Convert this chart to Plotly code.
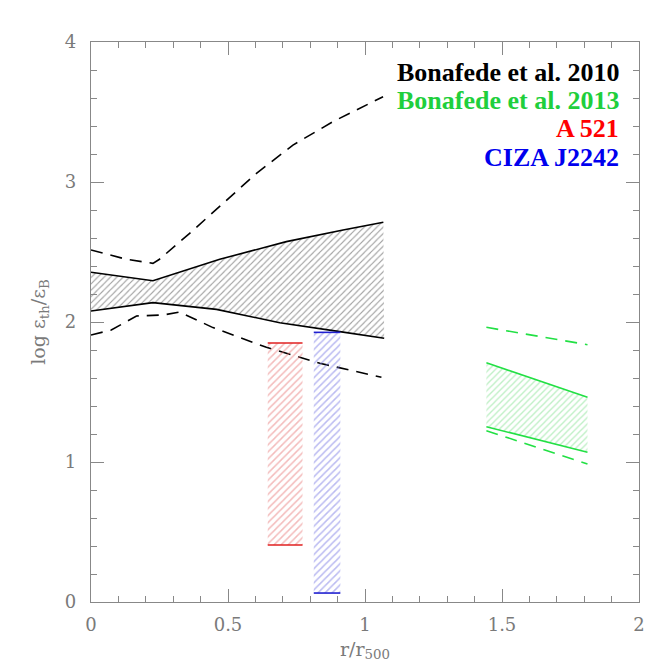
import plotly.graph_objects as go

# Bonafede et al. 2010: solid band boundaries and dashed envelopes
b10_up_x = [0.0, 0.226, 0.47, 0.713, 0.92, 1.067]
b10_up_y = [2.355, 2.295, 2.448, 2.574, 2.657, 2.713]
b10_lo_x = [0.0, 0.226, 0.458, 0.689, 0.908, 1.07]
b10_lo_y = [2.079, 2.138, 2.09, 1.995, 1.931, 1.884]
b10_dup_x = [0.0, 0.129, 0.226, 0.25, 0.36, 0.482, 0.604, 0.737, 0.883, 1.066]
b10_dup_y = [2.514, 2.448, 2.419, 2.448, 2.633, 2.848, 3.062, 3.264, 3.431, 3.609]
b10_dlo_x = [0.0, 0.074, 0.166, 0.263, 0.324, 0.445, 0.64, 0.835, 1.06]
b10_dlo_y = [1.907, 1.943, 2.043, 2.05, 2.071, 1.96, 1.819, 1.705, 1.605]

# Bonafede et al. 2013
b13_x = [1.443, 1.812]
b13_up_y = [1.709, 1.462]
b13_lo_y = [1.252, 1.069]
b13_dup_y = [1.962, 1.838]
b13_dlo_y = [1.224, 0.986]

# Cluster ranges: (x from, x to, y low, y high)
a521_range = [0.645, 0.772, 0.407, 1.85]
ciza_range = [0.813, 0.91, 0.064, 1.926]

legend_labels = ["Bonafede et al. 2010", "Bonafede et al. 2013", "A 521", "CIZA J2242"]
legend_colors = ["#000000", "#1fcf3c", "#ff0000", "#0000ee"]

GREEN = "#22e044"
AXIS_GRAY = "#888888"
TEXT_GRAY = "#7a7a7a"

fig = go.Figure()


def hatched(xs, ys, color, size, solidity=0.28):
    fig.add_trace(go.Scatter(
        x=xs, y=ys, mode="lines", fill="toself",
        line=dict(width=0, color="rgba(0,0,0,0)"),
        fillcolor="rgba(0,0,0,0)",
        fillpattern=dict(shape="/", fgcolor=color, bgcolor="rgba(0,0,0,0)",
                         size=size, solidity=solidity),
        hoverinfo="skip", showlegend=False))


def line(xs, ys, color, dash="solid", width=1.6):
    fig.add_trace(go.Scatter(
        x=xs, y=ys, mode="lines", line=dict(color=color, width=width, dash=dash),
        hoverinfo="skip", showlegend=False))


# Bonafede 2010 band
hatched(b10_up_x + b10_lo_x[::-1], b10_up_y + b10_lo_y[::-1], "#444444", 4.5, 0.25)
line(b10_up_x, b10_up_y, "black")
line(b10_lo_x, b10_lo_y, "black")
line(b10_dup_x, b10_dup_y, "black", dash="12px,8px")
line(b10_dlo_x, b10_dlo_y, "black", dash="12px,8px")

# Bonafede 2013 band
hatched(b13_x + b13_x[::-1], b13_up_y + b13_lo_y[::-1], "#7ee08c", 4.5, 0.3)
line(b13_x, b13_up_y, GREEN)
line(b13_x, b13_lo_y, GREEN)
line(b13_x, b13_dup_y, GREEN, dash="12px,8px")
line(b13_x, b13_dlo_y, GREEN, dash="12px,8px")

# Cluster boxes
for (x0, x1, y0, y1), fg, edge in [(a521_range, "#e87878", "#e02020"),
                                   (ciza_range, "#7878e4", "#2020d0")]:
    hatched([x0, x1, x1, x0], [y0, y0, y1, y1], fg, 5, 0.3)
    line([x0, x1], [y0, y0], edge)
    line([x0, x1], [y1, y1], edge)

# Colour-coded labels
for i, (txt, col) in enumerate(zip(legend_labels, legend_colors)):
    fig.add_annotation(
        x=0.967, y=0.946 - 0.0505 * i, xref="paper", yref="paper",
        xanchor="right", yanchor="middle", showarrow=False,
        text="<b>" + txt + "</b>",
        font=dict(family="Liberation Serif", size=26, color=col))

axis_common = dict(
    showgrid=False, zeroline=False, showline=True, linecolor=AXIS_GRAY, linewidth=1.2,
    mirror="allticks", ticks="inside", ticklen=13, tickwidth=1.2, tickcolor=AXIS_GRAY,
    tickfont=dict(family="DejaVu Serif", size=18, color=TEXT_GRAY),
)

fig.update_xaxes(
    range=[0, 2], tickvals=[0, 0.5, 1, 1.5, 2], ticktext=["0", "0.5", "1", "1.5", "2"],
    minor=dict(dtick=0.1, tick0=0, ticks="inside", ticklen=6, tickcolor=AXIS_GRAY, tickwidth=1),
    ticklabelstandoff=6,
    title=dict(text="r/r<sub>500</sub>", font=dict(family="DejaVu Serif", size=19, color=TEXT_GRAY),
               standoff=8),
    **axis_common)
fig.update_yaxes(
    range=[0, 4], tickvals=[0, 1, 2, 3, 4], ticktext=["0", "1", "2", "3", "4"],
    minor=dict(dtick=0.2, tick0=0, ticks="inside", ticklen=6, tickcolor=AXIS_GRAY, tickwidth=1),
    ticklabelstandoff=10,
    title=dict(text="log ε<sub>th</sub>/ε<sub>B</sub>",
               font=dict(family="DejaVu Serif", size=19, color=TEXT_GRAY), standoff=14),
    **axis_common)

fig.update_layout(
    width=658, height=668,
    margin=dict(l=91, r=19, t=42, b=66),
    plot_bgcolor="white", paper_bgcolor="white",
    showlegend=False,
)

fig.write_html("out.html")
